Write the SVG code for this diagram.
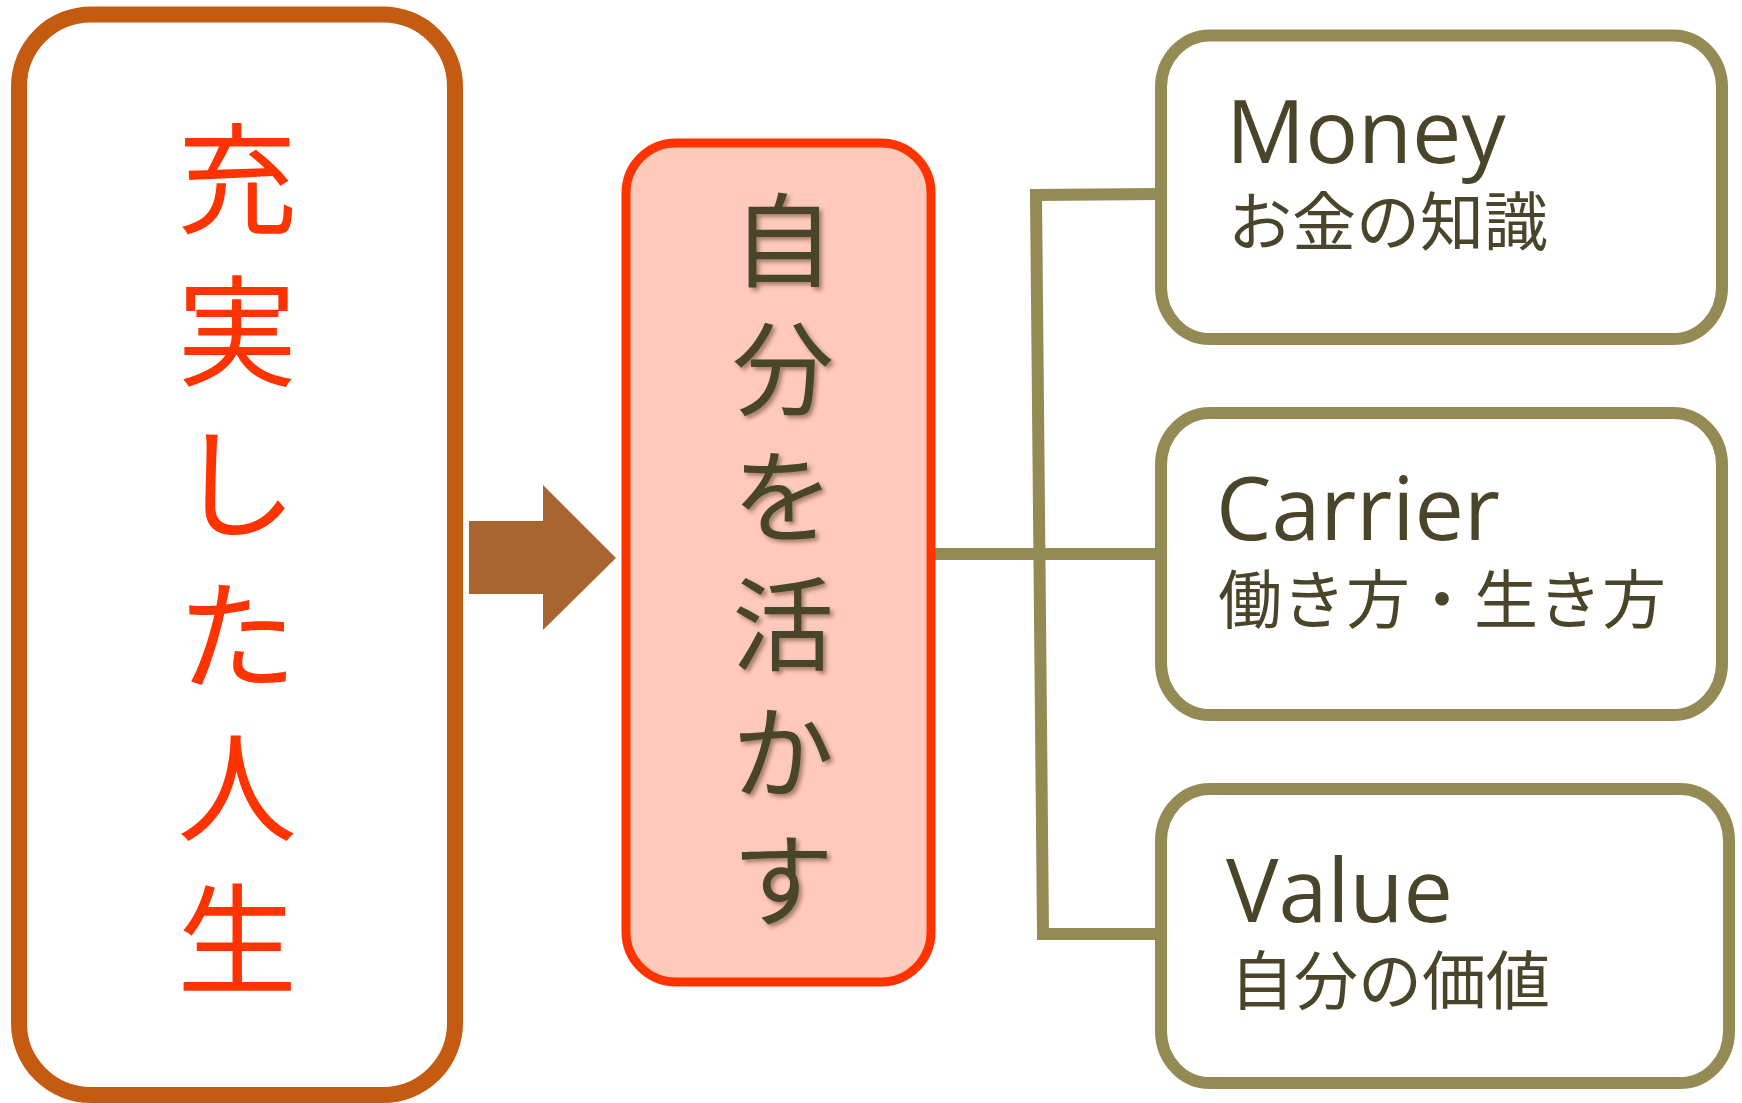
<svg xmlns="http://www.w3.org/2000/svg" width="1742" height="1103" viewBox="0 0 1742 1103">
<defs>
<style>
.jp{font-family:"Noto Sans CJK JP","Noto Sans",sans-serif;}
.lat{font-family:"Open Sans","Noto Sans CJK JP",sans-serif;}
.left-t{fill:#FF3300;font-size:120px;text-anchor:middle;}
.mid-t{fill:#4A452A;font-size:102px;text-anchor:middle;}
.head{fill:#4A452A;font-size:88px;}
.sub{fill:#4A452A;font-size:64px;}
.obox{fill:#FFFFFF;stroke:#948A54;stroke-width:12;}
.conn{fill:none;stroke:#948A54;stroke-width:12;}
</style>
<filter id="shadow" x="-20%" y="-20%" width="140%" height="140%">
<feDropShadow dx="3" dy="3" stdDeviation="2" flood-color="#3a2010" flood-opacity="0.45"/>
</filter>
</defs>
<rect width="1742" height="1103" fill="#FFFFFF"/>
<g id="connectors">
<polygon points="469,521 543,521 543,485 616,558 543,630 543,594 469,594" fill="#A9652F"/>
<line class="conn" x1="931" y1="554" x2="1161" y2="554"/>
<polyline class="conn" points="1161,194 1036,195 1043,934 1167,934"/>
</g>
<g id="node-life">
<rect x="19" y="14.5" width="436" height="1080.5" rx="72" ry="72" fill="#FFFFFF" stroke="#C55A11" stroke-width="16"/>
<text class="jp left-t"><tspan x="237" y="225">充</tspan><tspan x="237" y="377">実</tspan><tspan x="237" y="529">し</tspan><tspan x="237" y="681">た</tspan><tspan x="237" y="833">人</tspan><tspan x="237" y="985">生</tspan></text>
</g>
<g id="node-self">
<rect x="626" y="143" width="305" height="839" rx="50" ry="50" fill="#FFCABB" stroke="#FF3300" stroke-width="9"/>
<text class="jp mid-t" filter="url(#shadow)"><tspan x="783" y="279">自</tspan><tspan x="783" y="407">分</tspan><tspan x="783" y="535">を</tspan><tspan x="783" y="663">活</tspan><tspan x="783" y="791">か</tspan><tspan x="783" y="919">す</tspan></text>
</g>
<g id="node-money">
<rect class="obox" x="1161" y="35.5" width="561" height="303.5" rx="49" ry="52"/>
<text class="lat head" x="1226" y="163">Money</text>
<text class="jp sub" x="1228" y="245">お金の知識</text>
</g>
<g id="node-carrier">
<rect class="obox" x="1161" y="413" width="561" height="302" rx="49" ry="52"/>
<text class="lat head" x="1216" y="540">Carrier</text>
<text class="jp sub" x="1218" y="623">働き方・生き方</text>
</g>
<g id="node-value">
<rect class="obox" x="1161" y="789" width="568" height="294" rx="49" ry="52"/>
<text class="lat head" x="1226" y="922">Value</text>
<text class="jp sub" x="1230" y="1004">自分の価値</text>
</g>
</svg>
